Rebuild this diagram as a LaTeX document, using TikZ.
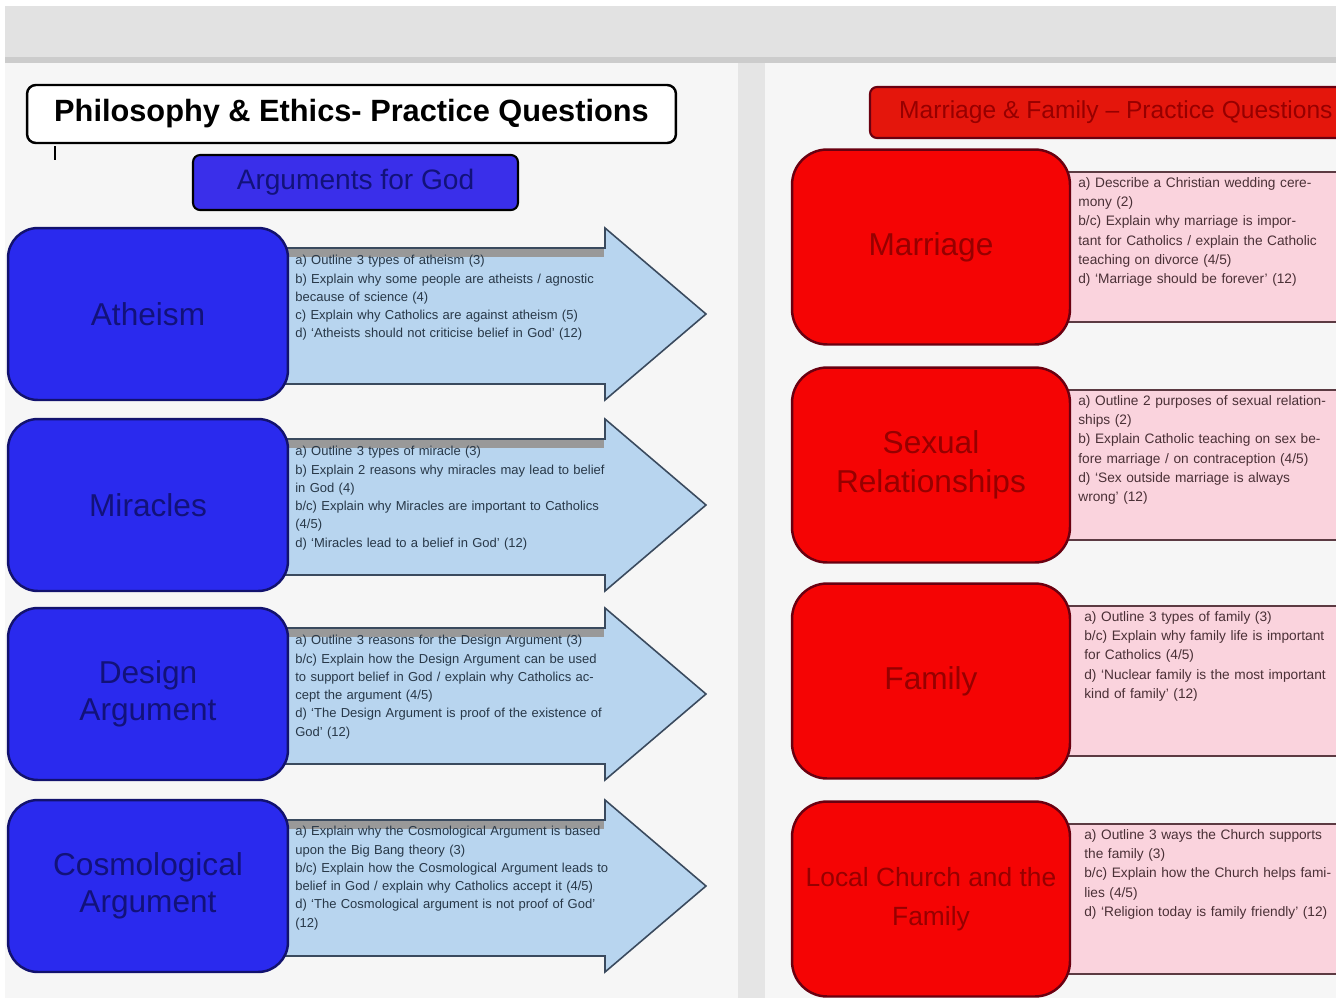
\documentclass[tikz,border=0pt]{standalone}
\usepackage{fontspec}
\setmainfont{Liberation Sans}
\usetikzlibrary{calc}
\usetikzlibrary{positioning}
\definecolor{bandgray}{HTML}{E2E2E2}
\definecolor{panelgray}{HTML}{F6F6F6}
\definecolor{topicblue}{HTML}{2A2AEE}
\definecolor{topicblueline}{HTML}{12126E}
\definecolor{topicbluetext}{HTML}{12127A}
\definecolor{bannerblue}{HTML}{3A2FEA}
\definecolor{arrowblue}{HTML}{B8D5EF}
\definecolor{arrowline}{HTML}{3A4A5E}
\definecolor{arrowtext}{HTML}{283848}
\definecolor{topicred}{HTML}{F50404}
\definecolor{topicredline}{HTML}{6A0010}
\definecolor{topicredtext}{HTML}{960000}
\definecolor{bannerred}{HTML}{E4160C}
\definecolor{notepink}{HTML}{FAD3DD}
\definecolor{notepinkline}{HTML}{5C3A42}
\definecolor{notetext}{HTML}{4A3036}
\tikzset{
    title box/.style={
        draw=black,
        fill=white,
        line width=1.4pt,
        rounded corners=5pt,
        minimum width=12.98cm,
        minimum height=1.16cm,
        font=\fontsize{17.5}{19}\selectfont\bfseries,
    },
    blue banner/.style={
        draw=black,
        fill=bannerblue,
        line width=1.2pt,
        rounded corners=4pt,
        minimum width=6.5cm,
        minimum height=1.1cm,
        text=topicbluetext,
        font=\fontsize{16}{18}\selectfont,
    },
    topic blue/.style={
        draw=topicblueline,
        fill=topicblue,
        line width=1.4pt,
        rounded corners=17pt,
        minimum width=5.6cm,
        minimum height=3.44cm,
    },
    topic red/.style={
        draw=topicredline,
        fill=topicred,
        line width=1.4pt,
        rounded corners=20pt,
        minimum width=5.56cm,
        minimum height=3.9cm,
    },
    blue label/.style={
        align=center,
        text=topicbluetext,
        font=\fontsize{18}{21}\selectfont,
    },
    red label/.style={
        align=center,
        text=topicredtext,
        font=\fontsize{18}{22}\selectfont,
    },
    question arrow/.style={
        draw=arrowline,
        fill=arrowblue,
        line width=0.9pt,
        line join=miter,
    },
    arrow text/.style={
        anchor=north west,
        text width=6.3cm,
        align=left,
        inner sep=0pt,
        text=arrowtext,
        font=\fontsize{7.4}{10.4}\selectfont,
    },
    note text/.style={
        anchor=north west,
        text width=5.0cm,
        align=left,
        inner sep=0pt,
        text=notetext,
        font=\fontsize{7.8}{11}\selectfont,
    },
}

\begin{document}
\begin{tikzpicture}[x=0.02cm, y=-0.02cm]

    \useasboundingbox (0,0) rectangle (1336,998);
    \clip (0,0) rectangle (1336,998);

    % page background
    \fill[panelgray] (0,0) rectangle (1336,998);
    \fill[white] (0,0) rectangle (5,998);
    \fill[white] (5,0) rectangle (1336,6);
    \fill[bandgray] (5,6) rectangle (1336,57);
    \fill[black!20] (5,57) rectangle (1336,63);
    \fill[black!10] (738,63) rectangle (765,998);

    % left panel
    \node[title box] (title) at (351.5,114) {Philosophy \& Ethics- Practice Questions};
    \draw[line width=1pt] (55,146) -- (55,160);
    \node[blue banner] (argbanner) at (355.5,182.5) {Arguments for God};

    \newcommand\questionarrow[2]{
        \draw[question arrow] (270,#1-66) -- (605,#1-66) -- (605,#1-86)
            -- (706,#1) -- (605,#1+86) -- (605,#1+70) -- (270,#1+70);
        \fill[black!40] (288,#1-65) rectangle (604,#1-57);
        \node[topic blue] (blue#2) at (148,#1) {};
    }

    \questionarrow{314}{1}
    \questionarrow{505}{2}
    \questionarrow{694}{3}
    \questionarrow{886}{4}

    \node[blue label] at (blue1) {Atheism};
    \node[blue label] at (blue2) {Miracles};
    \node[blue label] at (blue3) {Design\\Argument};
    \node[blue label] at (blue4) {Cosmological\\Argument};

    \node[arrow text] (q1) at (295,255) {a) Outline 3 types of atheism (3)\\
        b) Explain why some people are atheists / agnostic because of science (4)\\
        c) Explain why Catholics are against atheism (5)\\
        d) `Atheists should not criticise belief in God' (12)};
    \node[arrow text] (q2) at (295,446) {a) Outline 3 types of miracle (3)\\
        b) Explain 2 reasons why miracles may lead to belief in God (4)\\
        b/c) Explain why Miracles are important to Catholics (4/5)\\
        d) `Miracles lead to a belief in God' (12)};
    \node[arrow text] (q3) at (295,635) {a) Outline 3 reasons for the Design Argument (3)\\
        b/c) Explain how the Design Argument can be used to support belief in God / explain why Catholics accept the argument (4/5)\\
        d) `The Design Argument is proof of the existence of God' (12)};
    \node[arrow text] (q4) at (295,826) {a) Explain why the Cosmological Argument is based upon the Big Bang theory (3)\\
        b/c) Explain how the Cosmological Argument leads to belief in God / explain why Catholics accept it (4/5)\\
        d) `The Cosmological argument is not proof of God' (12)};

    % right panel
    \draw[draw=topicredline, fill=bannerred, line width=1.2pt, rounded corners=4pt]
        (870,87) rectangle (1360,138);
    \node[anchor=west, text=topicredtext, font=\fontsize{14}{16}\selectfont] (relbanner)
        at (893,112) {Marriage \& Family -- Practice Questions};

    \newcommand\notebox[2]{
        \fill[notepink] (1050,#1-75) rectangle (1340,#1+75);
        \draw[notepinkline, line width=1.1pt] (1050,#1-75) -- (1340,#1-75);
        \draw[notepinkline, line width=1.1pt] (1050,#1+75) -- (1340,#1+75);
        \node[topic red] (red#2) at (931,#1) {};
    }

    \notebox{247}{1}
    \notebox{465}{2}
    \notebox{681}{3}
    \notebox{899}{4}

    \node[red label] at (red1) {Marriage};
    \node[red label] at (red2) {Sexual\\Relationships};
    \node[red label] at (red3) {Family};
    \node[red label, font=\fontsize{15}{22}\selectfont] at (red4) {Local Church and the\\Family};

    \node[note text] (n1) at (1078,177) {a) Describe a Christian wedding ceremony (2)\\
        b/c) Explain why marriage is important for Catholics / explain the Catholic teaching on divorce (4/5)\\
        d) `Marriage should be forever' (12)};
    \node[note text] (n2) at (1078,395) {a) Outline 2 purposes of sexual relationships (2)\\
        b) Explain Catholic teaching on sex before marriage / on contraception (4/5)\\
        d) `Sex outside marriage is always wrong' (12)};
    \node[note text] (n3) at (1084,611) {a) Outline 3 types of family (3)\\
        b/c) Explain why family life is important for Catholics (4/5)\\
        d) `Nuclear family is the most important kind of family' (12)};
    \node[note text] (n4) at (1084,829) {a) Outline 3 ways the Church supports the family (3)\\
        b/c) Explain how the Church helps families (4/5)\\
        d) `Religion today is family friendly' (12)};

\end{tikzpicture}
\end{document}
